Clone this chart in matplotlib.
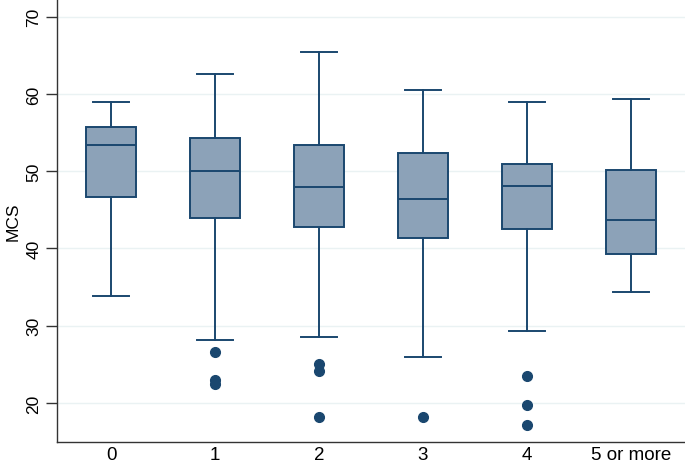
import matplotlib
matplotlib.use("Agg")
import matplotlib.pyplot as plt

plt.rcParams['font.family'] = ['Liberation Sans', 'DejaVu Sans']

# values
categories = ["0", "1", "2", "3", "4", "5 or more"]
whisker_lo = [33.9, 28.2, 28.5, 25.9, 29.3, 34.3]
q1 = [46.6, 43.9, 42.8, 41.4, 42.5, 39.3]
median = [53.4, 50.0, 48.0, 46.4, 48.1, 43.7]
q3 = [55.7, 54.3, 53.4, 52.4, 51.0, 50.2]
whisker_hi = [58.9, 62.6, 65.4, 60.5, 58.9, 59.4]
outliers = [[], [26.6, 23.0, 22.5], [25.0, 24.1, 18.2], [18.2], [23.5, 19.7, 17.2], []]

navy = '#1a476f'
box_fill = '#8ca2b8'
grid_col = '#eaf2f3'

stats = []
for i, lab in enumerate(categories):
    stats.append(dict(label=lab, whislo=whisker_lo[i], q1=q1[i], med=median[i],
                      q3=q3[i], whishi=whisker_hi[i], fliers=outliers[i]))

fig = plt.figure(figsize=(6.85, 4.64), dpi=100)
ax = fig.add_axes([0.0828, 0.0446, 0.9172, 0.9554])

ax.set_axisbelow(True)
ax.yaxis.grid(True, color=grid_col, lw=1.0)

ax.bxp(stats, positions=range(len(categories)), widths=0.48, patch_artist=True,
       boxprops=dict(facecolor=box_fill, edgecolor=navy, lw=1.4),
       medianprops=dict(color=navy, lw=1.4),
       whiskerprops=dict(color=navy, lw=1.4),
       capprops=dict(color=navy, lw=1.4),
       capwidths=0.34,
       flierprops=dict(marker='o', markerfacecolor=navy, markeredgecolor=navy,
                       markersize=7, linestyle='none'))

ax.set_xlim(-0.523, 5.52)
ax.set_ylim(14.9, 72.3)
ax.set_yticks([20, 30, 40, 50, 60, 70])
ax.set_xticks(range(len(categories)))
ax.set_xticklabels(categories)

ax.tick_params(axis='y', length=8, width=1, color='#333333', labelsize=12.5, pad=3,
               labelrotation=90)
for t in ax.get_yticklabels():
    t.set_va('center')
ax.tick_params(axis='x', length=0, labelsize=13.5, pad=2.5)

ax.set_ylabel('MCS', fontsize=12.5, labelpad=4)

for s in ['top', 'right']:
    ax.spines[s].set_visible(False)
for s in ['left', 'bottom']:
    ax.spines[s].set_color('#333333')
    ax.spines[s].set_linewidth(1.0)

fig.savefig('out.png', dpi=100)
